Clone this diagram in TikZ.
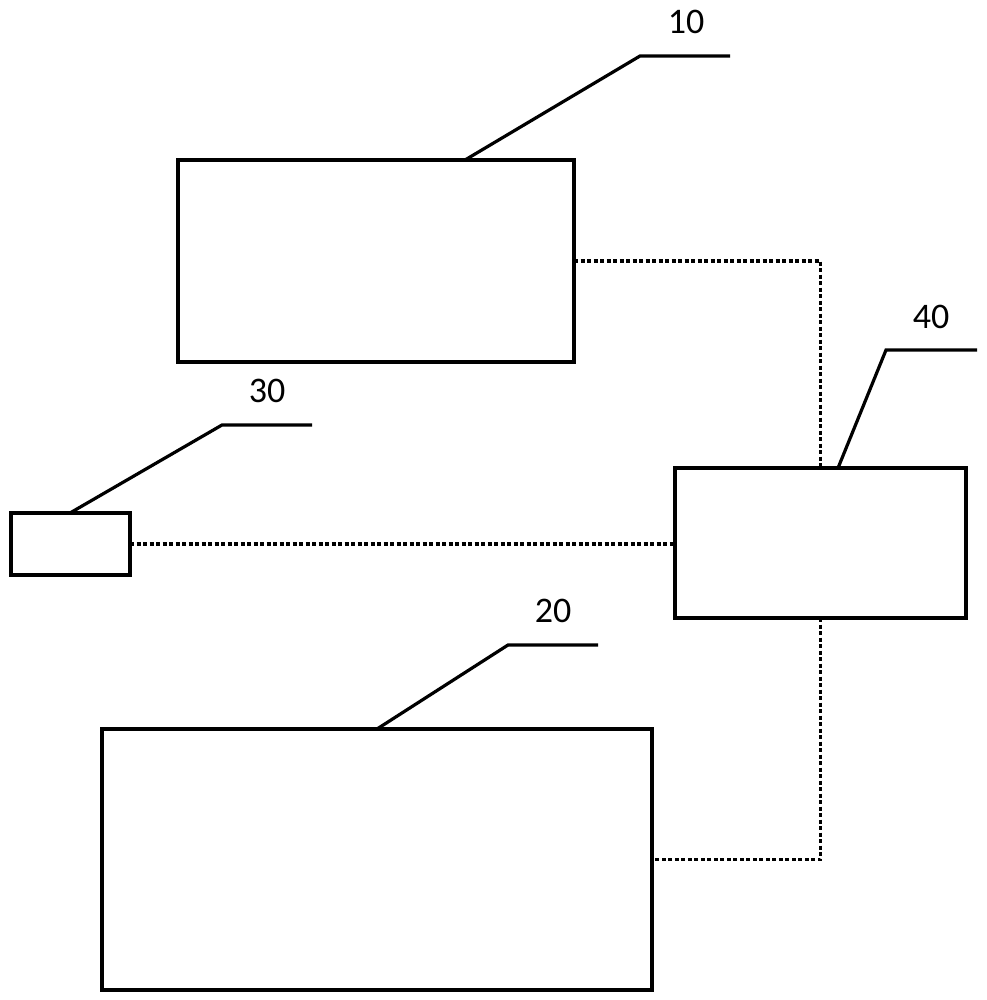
\documentclass[tikz,border=0pt]{standalone}
\usepackage{fontspec}
\setmainfont{Carlito}
\begin{document}
\begin{tikzpicture}[x=1pt,y=-1pt,
  box/.style={draw=black,line width=3.2pt,fill=white,inner sep=0pt,outer sep=0pt,anchor=north west},
  dotline/.style={draw=black,line width=3.2pt,dash pattern=on 4pt off 2.5pt},
  lead/.style={draw=black,line width=3.2pt,line join=miter},
  lbl/.style={font=\fontsize{36}{40}\selectfont,inner sep=0pt}]
\useasboundingbox[fill=white] (0,0) rectangle (986,1000);
% boxes
\node[box,minimum width=396pt,minimum height=202pt] (b10) at (178,160) {};
\node[box,minimum width=119pt,minimum height=62pt] (b30) at (11,513) {};
\node[box,minimum width=291pt,minimum height=150pt] (b40) at (675,468) {};
\node[box,minimum width=550pt,minimum height=261pt] (b20) at (102,729) {};
% dotted connectors
\draw[dotline] (b10.east) -| (b40.north);
\draw[dotline] (b30.east) -- (b30.east -| b40.west);
\draw[dotline] (b40.south) |- (b20.east);
% leader lines
\coordinate (s10) at (465,160); \coordinate (k10) at (640,56); \coordinate (e10) at (730,56);
\coordinate (s40) at (838,468); \coordinate (k40) at (886,350); \coordinate (e40) at (977,350);
\coordinate (s30) at (70,513); \coordinate (k30) at (222,425); \coordinate (e30) at (312,425);
\coordinate (s20) at (377,729); \coordinate (k20) at (508,645); \coordinate (e20) at (598,645);
\draw[lead] (s10) -- (k10) -- (e10);
\draw[lead] (s40) -- (k40) -- (e40);
\draw[lead] (s30) -- (k30) -- (e30);
\draw[lead] (s20) -- (k20) -- (e20);
% labels
\node[lbl] (l10) at (686,22) {10};
\node[lbl] (l40) at (931,317) {40};
\node[lbl] (l30) at (267,391) {30};
\node[lbl] (l20) at (553,611) {20};
\end{tikzpicture}
\end{document}
